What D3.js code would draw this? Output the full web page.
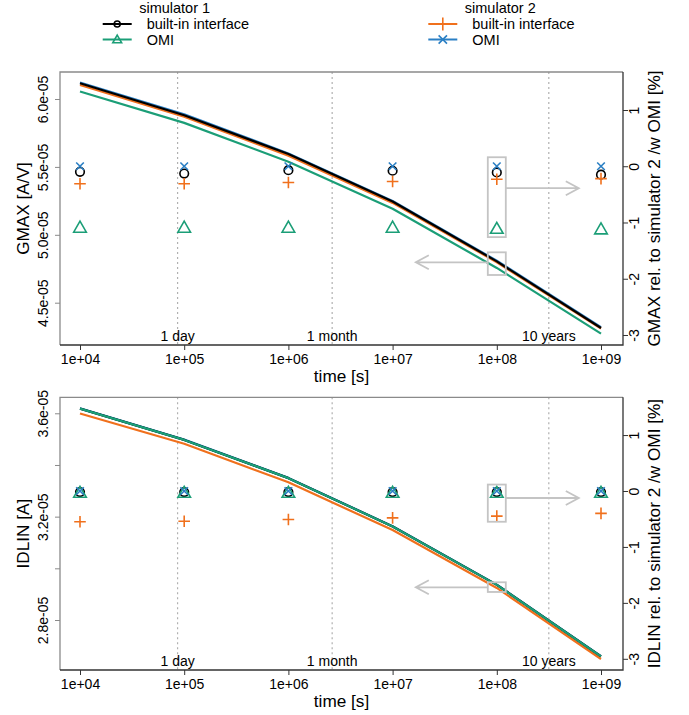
<!DOCTYPE html>
<html><head><meta charset="utf-8">
<script src="https://cdn.jsdelivr.net/npm/d3@7"></script>
<style>
body{margin:0;background:#fff}
text{font-family:"Liberation Sans",Arial,sans-serif;fill:#000}
</style></head>
<body>
<svg id="c" width="689" height="715"></svg>
<script>
// ---------- data ----------
const times = [1e4, 1e5, 1e6, 1e7, 1e8, 1e9];
const xTickLabels = ["1e+04", "1e+05", "1e+06", "1e+07", "1e+08", "1e+09"];
const eventTimes = [86400, 2629800, 315576000];
const eventLabels = ["1 day", "1 month", "10 years"];

const seriesKeys = ["sim2OMI", "sim2Builtin", "sim1Builtin", "sim1OMI"];
const seriesColors = {sim1Builtin: "#000000", sim1OMI: "#1b9e77", sim2Builtin: "#f0701c", sim2OMI: "#2a7fc4"};

// GMAX [A/V]
const gmaxSim1Builtin = [6.116e-5, 5.880e-5, 5.595e-5, 5.245e-5, 4.804e-5, 4.314e-5];
const gmaxSim1OMI     = [6.055e-5, 5.824e-5, 5.538e-5, 5.192e-5, 4.756e-5, 4.272e-5];
const gmaxSim2Builtin = [6.103e-5, 5.870e-5, 5.583e-5, 5.235e-5, 4.798e-5, 4.310e-5];
const gmaxSim2OMI     = [6.122e-5, 5.888e-5, 5.599e-5, 5.249e-5, 4.809e-5, 4.320e-5];
// GMAX relative to simulator 2 /w OMI [%]
const gmaxRelSim1Builtin = [-0.10, -0.13, -0.07, -0.08, -0.11, -0.15];
const gmaxRelSim1OMI     = [-1.09, -1.09, -1.09, -1.09, -1.11, -1.12];
const gmaxRelSim2Builtin = [-0.31, -0.31, -0.29, -0.27, -0.23, -0.22];
const gmaxRelSim2OMI     = [0, 0, 0, 0, 0, 0];

// IDLIN [A]
const idlinSim1Builtin = [3.618e-5, 3.497e-5, 3.349e-5, 3.162e-5, 2.936e-5, 2.659e-5];
const idlinSim1OMI     = [3.618e-5, 3.497e-5, 3.349e-5, 3.162e-5, 2.936e-5, 2.659e-5];
const idlinSim2Builtin = [3.599e-5, 3.482e-5, 3.333e-5, 3.148e-5, 2.924e-5, 2.649e-5];
const idlinSim2OMI     = [3.619e-5, 3.498e-5, 3.350e-5, 3.163e-5, 2.937e-5, 2.660e-5];
// IDLIN relative to simulator 2 /w OMI [%]
const idlinRelSim1Builtin = [-0.02, -0.02, -0.02, -0.02, -0.02, -0.02];
const idlinRelSim1OMI     = [-0.03, -0.03, -0.03, -0.03, -0.03, -0.03];
const idlinRelSim2Builtin = [-0.55, -0.54, -0.51, -0.48, -0.45, -0.40];
const idlinRelSim2OMI     = [0, 0, 0, 0, 0, 0];

const gmaxTicks = [4.5e-5, 5.0e-5, 5.5e-5, 6.0e-5];
const gmaxTickLabels = ["4.5e-05", "5.0e-05", "5.5e-05", "6.0e-05"];
const idlinTicks = [2.8e-5, 3.0e-5, 3.2e-5, 3.4e-5, 3.6e-5];
const idlinTickLabels = ["2.8e-05", "", "3.2e-05", "", "3.6e-05"];
const relTicks = [-3, -2, -1, 0, 1];
const relTickLabels = ["-3", "-2", "-1", "0", "1"];

const legendGroups = [
  {title: "simulator 1", items: [{label: "built-in interface", key: "sim1Builtin"}, {label: "OMI", key: "sim1OMI"}]},
  {title: "simulator 2", items: [{label: "built-in interface", key: "sim2Builtin"}, {label: "OMI", key: "sim2OMI"}]}
];

// ---------- drawing ----------
const svg = d3.select("#c");
const plotL = 60, plotR = 623;
const x = d3.scaleLog().domain([1e4, 1e9]).range([80, 601]);

function markerPath(key, s) {
  // s: scale factor
  if (key === "sim1Builtin") return null;
  if (key === "sim1OMI") { const w = 6.3*s, h = 11*s; return `M0,${-h*0.58}L${w},${h*0.42}L${-w},${h*0.42}Z`; }
  if (key === "sim2Builtin") { const a = 5.8*s; return `M${-a},0H${a}M0,${-a}V${a}`; }
  if (key === "sim2OMI") { const a = 3.8*s; return `M${-a},${-a}L${a},${a}M${-a},${a}L${a},${-a}`; }
}
function drawMarker(g, key, cx, cy, s, r) {
  const c = seriesColors[key];
  if (key === "sim1Builtin") {
    g.append("circle").attr("cx", cx).attr("cy", cy).attr("r", r)
      .attr("fill", "none").attr("stroke", c).attr("stroke-width", 1.6);
  } else {
    g.append("path").attr("d", markerPath(key, s)).attr("transform", `translate(${cx},${cy})`)
      .attr("fill", "none").attr("stroke", c).attr("stroke-width", 1.6);
  }
}

function drawPanel(p) {
  const g = svg.append("g");
  const yL = d3.scaleLinear().domain(p.yDomain).range([p.bottom, p.top]);
  const yR = d3.scaleLinear().domain(p.rDomain).range([p.bottom, p.top]);

  // event lines
  eventTimes.forEach((t, i) => {
    g.append("line").attr("x1", x(t)).attr("x2", x(t)).attr("y1", p.top).attr("y2", p.bottom)
      .attr("stroke", "#b0b0b0").attr("stroke-width", 1.2).attr("stroke-dasharray", "2,3");
    g.append("text").attr("x", x(t)).attr("y", p.bottom - 9).attr("dy", "0.35em")
      .attr("text-anchor", "middle").style("font-size", "14px").text(eventLabels[i]);
  });

  // lines
  const line = d3.line().x(d => x(d[0])).y(d => yL(d[1]));
  seriesKeys.forEach(k => {
    g.append("path").datum(d3.zip(times, p.lines[k])).attr("d", line)
      .attr("fill", "none").attr("stroke", seriesColors[k]).attr("stroke-width", 2.2)
      .attr("stroke-linejoin", "round");
  });

  // markers
  ["sim1Builtin", "sim1OMI", "sim2Builtin", "sim2OMI"].forEach(k => {
    times.forEach((t, i) => drawMarker(g, k, x(t), yR(p.rel[k][i]), 1, 4.3));
  });

  // annotation boxes + arrows
  const ann = g.append("g").attr("stroke", "#c4c4c4").attr("stroke-width", 1.8).attr("fill", "none");
  const bx0 = x(1e8) - 9, bx1 = x(1e8) + 9;
  const b1t = yR(p.box1[0]), b1b = yR(p.box1[1]);
  ann.append("rect").attr("x", bx0).attr("y", b1t).attr("width", bx1 - bx0).attr("height", b1b - b1t);
  const ay1 = yR(p.box1Arrow), ax1 = bx1 + 73;
  ann.append("path").attr("d", `M${bx1},${ay1}H${ax1}M${ax1-13},${ay1-7}L${ax1},${ay1}L${ax1-13},${ay1+7}`);
  const b2t = yL(p.box2[0]), b2b = yL(p.box2[1]);
  ann.append("rect").attr("x", bx0).attr("y", b2t).attr("width", bx1 - bx0).attr("height", b2b - b2t);
  const ay2 = yL(p.box2Arrow), ax2 = bx0 - 72;
  ann.append("path").attr("d", `M${bx0},${ay2}H${ax2}M${ax2+13},${ay2-7}L${ax2},${ay2}L${ax2+13},${ay2+7}`);

  // frame
  g.append("path").attr("d", `M${plotL},${p.bottom}V${p.top}H${plotR}`)
    .attr("fill", "none").attr("stroke", "#8a8a8a").attr("stroke-width", 1.3);
  g.append("path").attr("d", `M${plotL},${p.bottom}H${plotR}V${p.top}`)
    .attr("fill", "none").attr("stroke", "#333").attr("stroke-width", 1.3);

  // bottom axis
  const ax = g.append("g").attr("transform", `translate(0,${p.bottom})`)
    .call(d3.axisBottom(x).tickValues(times).tickFormat((d, i) => xTickLabels[i]).tickSize(5).tickPadding(4));
  ax.select(".domain").remove();
  ax.selectAll(".tick line").attr("stroke", "#333");
  ax.selectAll("text").style("font-size", "14px").style("font-family", "Liberation Sans, Arial, sans-serif").attr("fill", "#000");

  // left axis
  const al = g.append("g").attr("transform", `translate(${plotL},0)`)
    .call(d3.axisLeft(yL).tickValues(p.ticks).tickFormat((d, i) => p.tickLabels[i]).tickSize(5));
  al.select(".domain").remove();
  al.selectAll(".tick line").attr("stroke", "#8a8a8a");
  al.selectAll("text").attr("transform", "rotate(-90)").attr("x", 0).attr("y", -17).attr("dy", "0.35em")
    .attr("text-anchor", "middle").style("font-size", "14px").style("font-family", "Liberation Sans, Arial, sans-serif").attr("fill", "#000");

  // right axis
  const ar = g.append("g").attr("transform", `translate(${plotR},0)`)
    .call(d3.axisRight(yR).tickValues(relTicks).tickFormat((d, i) => relTickLabels[i]).tickSize(5));
  ar.select(".domain").remove();
  ar.selectAll(".tick line").attr("stroke", "#333");
  ar.selectAll("text").attr("transform", "rotate(-90)").attr("x", 0).attr("y", 11).attr("dy", "0.35em")
    .attr("text-anchor", "middle").style("font-size", "14px").style("font-family", "Liberation Sans, Arial, sans-serif").attr("fill", "#000");

  // titles
  const mid = (p.top + p.bottom) / 2;
  g.append("text").attr("transform", `translate(23,${mid}) rotate(-90)`).attr("dy", "0.35em")
    .attr("text-anchor", "middle").style("font-size", "17.2px").text(p.title);
  g.append("text").attr("transform", `translate(654,${mid}) rotate(-90)`).attr("dy", "0.35em")
    .attr("text-anchor", "middle").style("font-size", "17.2px").text(p.rtitle);
  g.append("text").attr("x", (plotL + plotR) / 2).attr("y", p.bottom + 31).attr("dy", "0.35em")
    .attr("text-anchor", "middle").style("font-size", "17.2px").text("time [s]");
}

drawPanel({
  top: 72, bottom: 345,
  yDomain: [4.1885e-5, 6.1988e-5], rDomain: [-3.178, 1.6756],
  ticks: gmaxTicks, tickLabels: gmaxTickLabels,
  lines: {sim1Builtin: gmaxSim1Builtin, sim1OMI: gmaxSim1OMI, sim2Builtin: gmaxSim2Builtin, sim2OMI: gmaxSim2OMI},
  rel: {sim1Builtin: gmaxRelSim1Builtin, sim1OMI: gmaxRelSim1OMI, sim2Builtin: gmaxRelSim2Builtin, sim2OMI: gmaxRelSim2OMI},
  box1: [0.16, -1.26], box1Arrow: -0.39,
  box2: [4.871e-5, 4.704e-5], box2Arrow: 4.7975e-5,
  title: "GMAX [A/V]", rtitle: "GMAX rel. to simulator 2 /w OMI [%]"
});
drawPanel({
  top: 397.3, bottom: 670,
  yDomain: [2.6065e-5, 3.6619e-5], rDomain: [-3.2, 1.675],
  ticks: idlinTicks, tickLabels: idlinTickLabels,
  lines: {sim1Builtin: idlinSim1Builtin, sim1OMI: idlinSim1OMI, sim2Builtin: idlinSim2Builtin, sim2OMI: idlinSim2OMI},
  rel: {sim1Builtin: idlinRelSim1Builtin, sim1OMI: idlinRelSim1OMI, sim2Builtin: idlinRelSim2Builtin, sim2OMI: idlinRelSim2OMI},
  box1: [0.115, -0.55], box1Arrow: -0.125,
  box2: [2.946e-5, 2.9085e-5], box2Arrow: 2.9266e-5,
  title: "IDLIN [A]", rtitle: "IDLIN rel. to simulator 2 /w OMI [%]"
});

// legend
const legX = [102.7, 428.3];
const lg = svg.append("g");
legendGroups.forEach((grp, gi) => {
  const x0 = legX[gi];
  lg.append("text").attr("x", x0 + 36.5).attr("y", 8).attr("dy", "0.35em").style("font-size", "14.5px").text(grp.title);
  grp.items.forEach((it, ii) => {
    const y = 24 + ii * 15.5;
    lg.append("line").attr("x1", x0).attr("x2", x0 + 29).attr("y1", y).attr("y2", y)
      .attr("stroke", seriesColors[it.key]).attr("stroke-width", 2);
    const s = it.key === "sim1OMI" ? 0.7 : (it.key === "sim2Builtin" ? 1.12 : 1.1);
    drawMarker(lg, it.key, x0 + 14.5, y, s, 3);
    lg.append("text").attr("x", x0 + 44).attr("y", y).attr("dy", "0.35em").style("font-size", "14.5px").text(it.label);
  });
});
</script>
</body></html>
